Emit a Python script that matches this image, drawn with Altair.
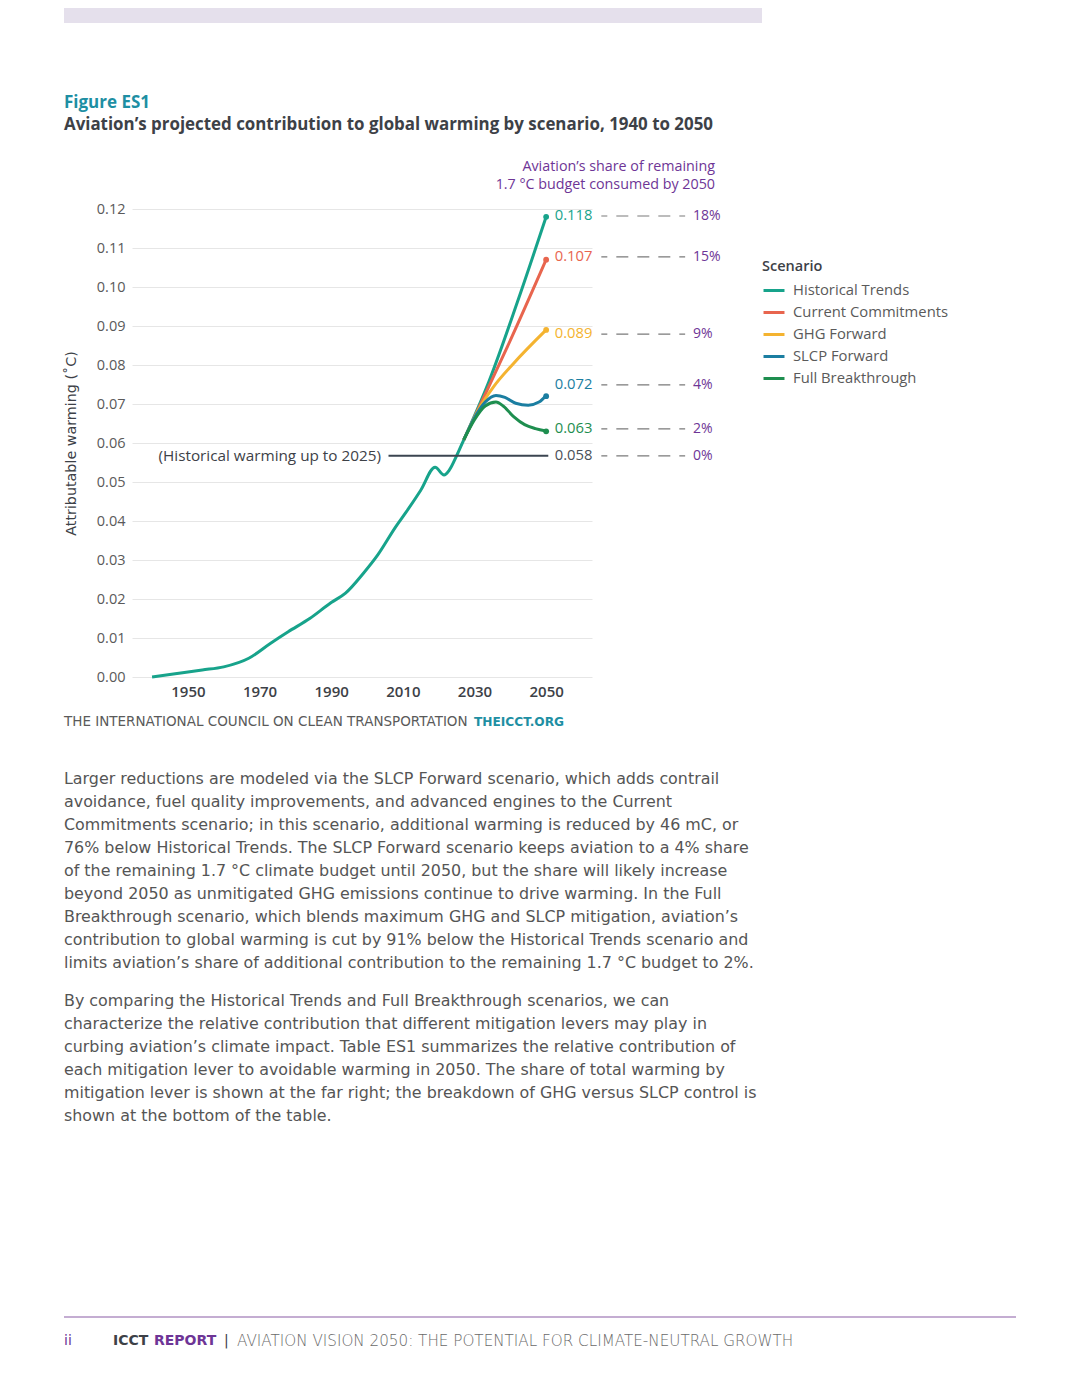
import altair as alt
import pandas as pd

# ---------------- data ----------------
scenarios = ["Historical Trends", "Current Commitments", "GHG Forward", "SLCP Forward", "Full Breakthrough"]
colors = ["#17A38B", "#E8654E", "#F4B330", "#1B7EA1", "#1E8E4F"]

hist_years = [1940, 1947, 1954, 1960, 1967, 1973, 1978, 1984, 1990, 1994, 1999, 2003, 2008, 2011,
              2015, 2019, 2021.5, 2023, 2025, 2027, 2034, 2042, 2050]
hist_vals = [0.0000, 0.0009, 0.0018, 0.0026, 0.0048, 0.0086, 0.0116, 0.0150, 0.0191, 0.0215, 0.0266,
             0.0313, 0.0385, 0.0424, 0.0479, 0.0538, 0.0518, 0.0531, 0.0567, 0.0608, 0.0757, 0.0962, 0.1180]

cc_years = [2027, 2033, 2039, 2050]
cc_vals = [0.0608, 0.0725, 0.0843, 0.1070]

ghg_years = [2027, 2031.6, 2035.3, 2040.9, 2050]
ghg_vals = [0.0608, 0.0693, 0.0744, 0.0804, 0.0890]

slcp_years = [2027, 2030, 2033, 2036, 2038.5, 2041.5, 2045, 2048, 2050]
slcp_vals = [0.0608, 0.0665, 0.0705, 0.0722, 0.0717, 0.0702, 0.0697, 0.0705, 0.0722]

fb_years = [2027, 2030, 2033, 2036, 2038, 2041, 2044, 2047, 2050]
fb_vals = [0.0608, 0.0660, 0.0695, 0.0705, 0.0695, 0.0667, 0.0647, 0.0637, 0.0631]

end_vals = [0.118, 0.107, 0.089, 0.072, 0.063]

label_texts = ["0.118", "0.107", "0.089", "0.072", "0.063", "0.058"]
label_levels = [0.1182, 0.1077, 0.0879, 0.0749, 0.0636, 0.0567]
label_colors = ["#17A38B", "#E8654E", "#F4B330", "#1B7EA1", "#1E8E4F", "#4a4f57"]
shares = ["18%", "15%", "9%", "4%", "2%", "0%"]

hist_2025 = 0.0567
y_ticks = [0.00, 0.01, 0.02, 0.03, 0.04, 0.05, 0.06, 0.07, 0.08, 0.09, 0.10, 0.11, 0.12]
x_ticks = [1950, 1970, 1990, 2010, 2030, 2050]

share_header = ["Aviation’s share of remaining", "1.7 °C budget consumed by 2050"]

para1 = [
    "Larger reductions are modeled via the SLCP Forward scenario, which adds contrail",
    "avoidance, fuel quality improvements, and advanced engines to the Current",
    "Commitments scenario; in this scenario, additional warming is reduced by 46 mC, or",
    "76% below Historical Trends. The SLCP Forward scenario keeps aviation to a 4% share",
    "of the remaining 1.7 °C climate budget until 2050, but the share will likely increase",
    "beyond 2050 as unmitigated GHG emissions continue to drive warming. In the Full",
    "Breakthrough scenario, which blends maximum GHG and SLCP mitigation, aviation’s",
    "contribution to global warming is cut by 91% below the Historical Trends scenario and",
    "limits aviation’s share of additional contribution to the remaining 1.7 °C budget to 2%.",
]
para2 = [
    "By comparing the Historical Trends and Full Breakthrough scenarios, we can",
    "characterize the relative contribution that different mitigation levers may play in",
    "curbing aviation’s climate impact. Table ES1 summarizes the relative contribution of",
    "each mitigation lever to avoidable warming in 2050. The share of total warming by",
    "mitigation lever is shown at the far right; the breakdown of GHG versus SLCP control is",
    "shown at the bottom of the table.",
]

# ---------------- tables ----------------
rows = []
for name, ys, vs in [(scenarios[0], hist_years, hist_vals), (scenarios[1], cc_years, cc_vals),
                     (scenarios[2], ghg_years, ghg_vals), (scenarios[3], slcp_years, slcp_vals),
                     (scenarios[4], fb_years, fb_vals)]:
    for y, v in zip(ys, vs):
        rows.append({"scenario": name, "year": y, "value": v})
lines_df = pd.DataFrame(rows)
ends_df = pd.DataFrame({"scenario": scenarios, "year": [2050] * 5, "value": end_vals})
labels_df = pd.DataFrame({"text": label_texts, "level": label_levels, "color": label_colors,
                          "share": shares, "lx": [2052.4] * 6, "d1": [2065.4] * 6,
                          "d2": [2088.8] * 6, "px": [2091.0] * 6})
hist_rule_df = pd.DataFrame({"x1": [2006.0], "x2": [2050.6], "y": [hist_2025],
                             "t": ["(Historical warming up to 2025)"], "tx": [2003.9]})

FONT = "Open Sans"
WIDE = "DejaVu Sans"
X0, Y0 = 132, 209  # plot origin on the page

xs = alt.Scale(domain=[1934.4, 2062.8], nice=False, zero=False)
ys_ = alt.Scale(domain=[0, 0.12], nice=False, zero=True)
cs = alt.Scale(domain=scenarios, range=colors)

base = alt.Chart(lines_df)
lines = base.mark_line(strokeWidth=3, interpolate="monotone").encode(
    x=alt.X("year:Q", scale=xs, axis=alt.Axis(values=x_ticks, format="d", grid=False, ticks=False,
                                              domain=False, labelPadding=7, labelFontSize=15,
                                              labelFontWeight=600, labelColor="#3d4147", title=None,
                                              labelFont=FONT, labelOverlap=False, tickCount=20)),
    y=alt.Y("value:Q", scale=ys_, axis=alt.Axis(values=y_ticks, format=".2f", grid=True, ticks=False,
                                               domain=False, labelPadding=7, labelFontSize=14.5,
                                               labelColor="#5a5a5a", gridColor="#e6e6e6",
                                               labelFont=FONT, labelOverlap=False, tickCount=20,
                                               title="Attributable warming (˚C)", titleFontSize=14.3,
                                               titleFontWeight=500, titleColor="#3d4147",
                                               titleX=-61, titleY=234, titleAngle=-90,
                                               titleAlign="center", titleBaseline="middle",
                                               titleFont=WIDE)),
    color=alt.Color("scenario:N", scale=cs, sort=scenarios,
                    legend=alt.Legend(title="Scenario", orient="none", legendX=630, legendY=51,
                                      symbolType="stroke", symbolStrokeWidth=3, symbolSize=440,
                                      rowPadding=3, labelOffset=7, labelFontSize=14.8,
                                      labelColor="#5a5a5a", titleFontSize=14.5, titleFontWeight=600,
                                      titleColor="#3d4147", labelFont=FONT, titleFont=FONT,
                                      titlePadding=4)),
    order=alt.Order("year:Q"),
)

dots = alt.Chart(ends_df).mark_circle(size=34, opacity=1).encode(
    x=alt.X("year:Q", scale=xs), y=alt.Y("value:Q", scale=ys_),
    color=alt.Color("scenario:N", scale=cs, legend=None))

hist_rule = alt.Chart(hist_rule_df).mark_rule(color="#3b4550", strokeWidth=2).encode(
    x=alt.X("x1:Q", scale=xs), x2="x2:Q", y=alt.Y("y:Q", scale=ys_))
hist_text = alt.Chart(hist_rule_df).mark_text(align="right", baseline="middle", fontSize=15.3,
                                              fontWeight=500, color="#3d4147", font=FONT).encode(
    x=alt.X("tx:Q", scale=xs), y=alt.Y("y:Q", scale=ys_), text="t:N")

val_labels = alt.Chart(labels_df).mark_text(align="left", baseline="middle", fontSize=14.8,
                                            fontWeight=500, font=FONT).encode(
    x=alt.X("lx:Q", scale=xs), y=alt.Y("level:Q", scale=ys_), text="text:N",
    color=alt.Color("color:N", scale=None))
dashes = alt.Chart(labels_df).mark_rule(color="#7a7a7a", strokeWidth=1.2, strokeDash=[12, 9],
                                        strokeDashOffset=6).encode(
    x=alt.X("d1:Q", scale=xs), x2="d2:Q", y=alt.Y("level:Q", scale=ys_))
share_labels = alt.Chart(labels_df).mark_text(align="left", baseline="middle", fontSize=14,
                                              fontWeight=500, color="#6E3596", font=FONT).encode(
    x=alt.X("px:Q", scale=xs), y=alt.Y("level:Q", scale=ys_), text="share:N")

one = pd.DataFrame({"k": [0]})


def txt(s, px, py, size=14, weight=400, color="#5a5a5a", align="left", font=FONT):
    return alt.Chart(one).mark_text(text=s, align=align, baseline="middle", fontSize=size,
                                    fontWeight=weight, color=color, font=font).encode(
        x=alt.value(px - X0), y=alt.value(py - Y0))


def box(px1, px2, py1, py2, color):
    return alt.Chart(one).mark_rect(color=color).encode(
        x=alt.value(px1 - X0), x2=alt.value(px2 - X0), y=alt.value(py1 - Y0), y2=alt.value(py2 - Y0))


def hline(px1, px2, py, color, w=1):
    return alt.Chart(one).mark_rule(color=color, strokeWidth=w).encode(
        x=alt.value(px1 - X0), x2=alt.value(px2 - X0), y=alt.value(py - Y0))


deco = [
    box(64, 762, 8, 23, "#E5E0EC"),
    txt("Figure ES1", 64, 103, size=17, weight=700, color="#1E8FA3"),
    txt("Aviation’s projected contribution to global warming by scenario, 1940 to 2050", 64, 125,
        size=16.9, weight=700, color="#3d4147"),
    txt(share_header[0], 715, 166.5, size=14.3, weight=500, color="#6E3596", align="right"),
    txt(share_header[1], 715, 184.5, size=14.3, weight=500, color="#6E3596", align="right"),
    txt("THE INTERNATIONAL COUNCIL ON CLEAN TRANSPORTATION", 64, 722, size=13.5, color="#5a5a5a",
        font=WIDE),
    txt("THEICCT.ORG", 474, 722, size=12.2, weight=700, color="#1E8FA3", font=WIDE),
    hline(64, 1016, 1317, "#8a5ca6", 1.2),
    txt("ii", 64, 1341, size=14, color="#6E3596", font=WIDE),
    txt("ICCT", 113, 1341, size=14, weight=700, color="#3d4147", font=WIDE),
    txt("REPORT", 154, 1341, size=14, weight=700, color="#6E3596", font=WIDE),
    txt("|", 224, 1341, size=14, color="#3d4147", font=WIDE),
    txt("AVIATION VISION 2050: THE POTENTIAL FOR CLIMATE-NEUTRAL GROWTH", 237, 1341, size=15.2,
        weight=300, color="#6a6a6a", font=WIDE),
]

for i, line in enumerate(para1):
    deco.append(txt(line, 64, 779 + 23 * i, size=15.9, color="#555555", font=WIDE))
for i, line in enumerate(para2):
    deco.append(txt(line, 64, 1001 + 23 * i, size=15.9, color="#555555", font=WIDE))

chart = alt.layer(
    lines, dashes, hist_rule, hist_text, dots, val_labels, share_labels, *deco
).properties(
    width=460, height=468,
    padding={"left": 124, "top": 201, "right": 480, "bottom": 713},
    autosize=alt.AutoSizeParams(type="none"),
).configure(font=FONT, background="white", view=alt.ViewConfig(stroke=None))

chart.save("out.html", embed_options={"renderer": "svg", "actions": False})
